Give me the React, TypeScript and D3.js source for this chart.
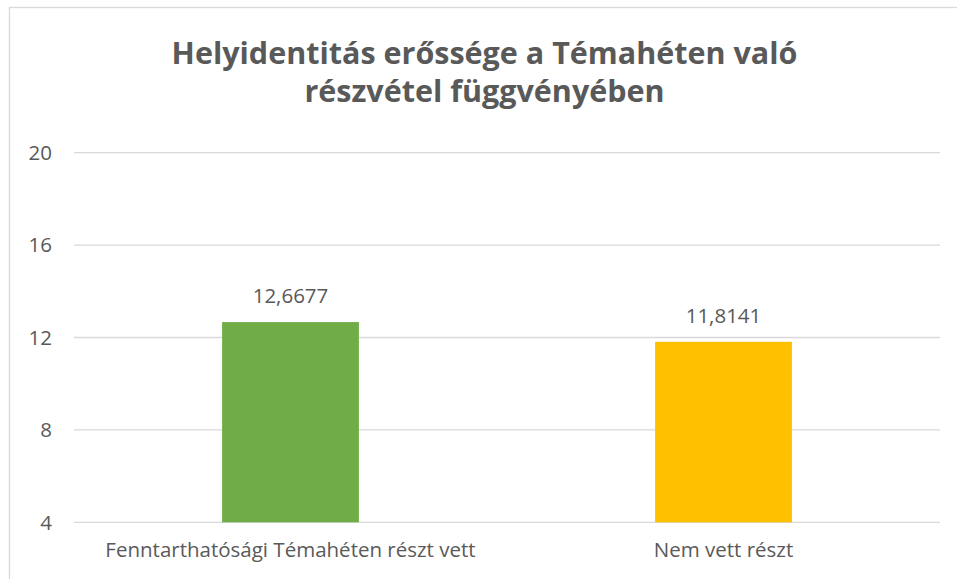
import React, { useEffect } from 'react';
import * as d3 from 'd3';

const categories = ['Fenntarthatósági Témahéten részt vett', 'Nem vett részt'];
const values = [12.6677, 11.8141];
const valueLabels = ['12,6677', '11,8141'];
const barColors = ['#70AD47', '#FFC000'];
const yTicks = [4, 8, 12, 16, 20];
const titleLines = ['Helyidentitás erőssége a Témahéten való', 'részvétel függvényében'];

const W = 957;
const H = 579;
const margin = { left: 74, right: 17, top: 152.7, bottom: 56.7 };
const FONT = '"Open Sans", "Noto Sans", sans-serif';
const TEXT = '#595959';
const GRID = '#d9d9d9';
const LABEL_SIZE = 20.5;

const App: React.FC = () => {
  useEffect(() => {
    document.body.style.margin = '0';
  }, []);

  const x = d3
    .scaleBand<string>()
    .domain(categories)
    .range([margin.left, W - margin.right])
    .paddingInner(0.684)
    .paddingOuter(0.342);

  const y = d3
    .scaleLinear()
    .domain([4, 20])
    .range([H - margin.bottom, margin.top]);

  return (
    <svg width={W} height={H} style={{ display: 'block', background: '#fff' }}>
      {/* chart border, cut off at right and bottom like the source */}
      <rect x={9.5} y={7.5} width={W + 10} height={H + 10} fill="none" stroke={GRID} strokeWidth={1.3} />

      {titleLines.map((t, i) => (
        <text
          key={t}
          x={484.5}
          y={63.5 + i * 38.3}
          textAnchor="middle"
          fontFamily={FONT}
          fontWeight={700}
          fontSize={30.5}
          fill={TEXT}
        >
          {t}
        </text>
      ))}

      {yTicks.map((t) => (
        <g key={t}>
          <line x1={margin.left} x2={W - margin.right} y1={y(t)} y2={y(t)} stroke={GRID} strokeWidth={1.3} />
          <text
            x={52}
            y={y(t)}
            dy="0.36em"
            textAnchor="end"
            fontFamily={FONT}
            fontSize={LABEL_SIZE}
            fill={TEXT}
          >
            {t}
          </text>
        </g>
      ))}

      {categories.map((c, i) => (
        <g key={c}>
          <rect
            x={x(c)}
            y={y(values[i])}
            width={x.bandwidth()}
            height={y(4) - y(values[i])}
            fill={barColors[i]}
          />
          <text
            x={(x(c) || 0) + x.bandwidth() / 2}
            y={y(values[i]) - 19}
            textAnchor="middle"
            fontFamily={FONT}
            fontSize={LABEL_SIZE}
            fill={TEXT}
          >
            {valueLabels[i]}
          </text>
          <text
            x={(x(c) || 0) + x.bandwidth() / 2}
            y={557}
            textAnchor="middle"
            fontFamily={FONT}
            fontSize={LABEL_SIZE}
            fill={TEXT}
          >
            {c}
          </text>
        </g>
      ))}
    </svg>
  );
};

export default App;
